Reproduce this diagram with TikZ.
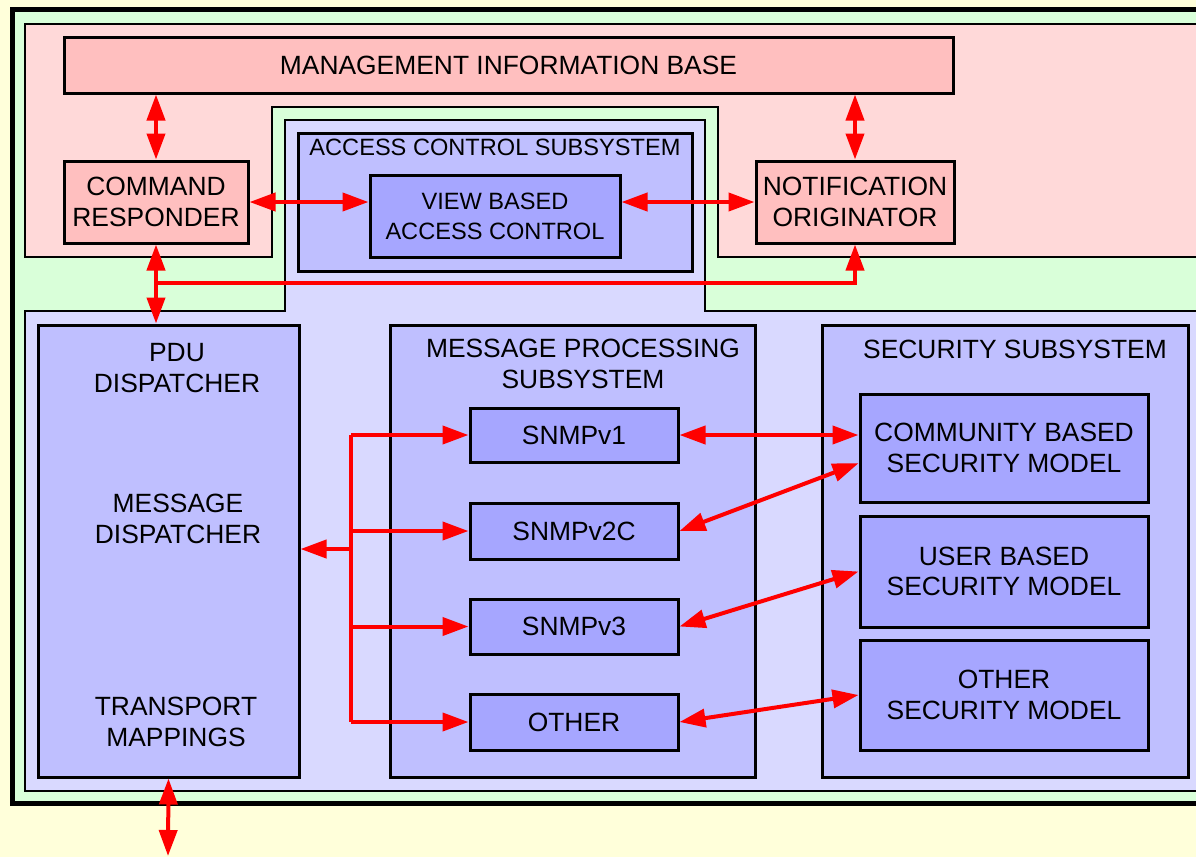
\documentclass[tikz,border=0pt]{standalone}
\usepackage{fontspec}
\setmainfont{Liberation Sans}
\usepackage{tikz}
\usepackage{xcolor}
\usetikzlibrary{arrows.meta}

\definecolor{paper}{HTML}{FFFFDA}
\definecolor{framegreen}{HTML}{D9FFD9}
\definecolor{apparea}{HTML}{FFD9D9}
\definecolor{appbox}{HTML}{FFBFBF}
\definecolor{engarea}{HTML}{D9D9FF}
\definecolor{subbox}{HTML}{BFBFFF}
\definecolor{modbox}{HTML}{A6A6FF}

\begin{document}
\begin{tikzpicture}[x=0.5pt, y=-0.5pt,
    font=\fontsize{13.2}{15.3}\selectfont,
    >={Triangle[length=13pt, width=9pt]},
    link/.style={red, line width=2pt},
    appnode/.style={draw, line width=1.5pt, fill=appbox, inner sep=0pt, align=center},
    subnode/.style={draw, line width=1.5pt, fill=subbox, inner sep=0pt, align=center},
    modnode/.style={draw, line width=1.5pt, fill=modbox, inner sep=0pt, align=center},
    smalltext/.style={font=\fontsize{11.8}{15}\selectfont, align=center}]
    \useasboundingbox (0,0) rectangle (1196,857);
    \fill [paper] (0,0) rectangle (1196,857);
    \clip (0,0) rectangle (1196,857);

    % areas
    \draw [line width=2.5pt, fill=framegreen] (12.5,9.5) rectangle (1215,803.5);
    \draw [line width=1pt, fill=apparea]
            (25,24) -- (1215,24) -- (1215,257) -- (718,257) -- (718,107)
            -- (272,107) -- (272,257) -- (25,257) -- cycle;
    \draw [line width=1pt, fill=engarea]
            (25,311) -- (285,311) -- (285,120) -- (705,120) -- (705,311)
            -- (1215,311) -- (1215,791) -- (25,791) -- cycle;

    % applications
    \node [appnode, minimum width=444.5pt, minimum height=28pt] (mib) at (508.5,65)
            {MANAGEMENT INFORMATION BASE};
    \node [appnode, minimum width=92pt, minimum height=41pt] (cr) at (156,202)
            {COMMAND\\RESPONDER};
    \node [appnode, minimum width=99pt, minimum height=41pt] (no) at (855,202)
            {NOTIFICATION\\ORIGINATOR};

    % access control
    \node [subnode, minimum width=197pt, minimum height=69pt] (acs) at (495,202) {};
        \node [smalltext] (acstitle) at (495,147) {ACCESS CONTROL SUBSYSTEM};
    \node [modnode, smalltext, minimum width=125pt, minimum height=41pt] (vbac) at (495,216)
            {VIEW BASED\\ACCESS CONTROL};

    % dispatcher
    \node [subnode, minimum width=130.5pt, minimum height=226pt] (pdu) at (168.5,551) {};
        \node [align=center] (pdutitle) at (177,368) {PDU\\DISPATCHER};
        \node [align=center] (msgdisp) at (178,519) {MESSAGE\\DISPATCHER};
        \node [align=center] (transport) at (176,722) {TRANSPORT\\MAPPINGS};

    % message processing
    \node [subnode, minimum width=182.5pt, minimum height=226pt] (mps) at (572.5,551) {};
        \node [align=center] (mpstitle) at (583,364) {MESSAGE PROCESSING\\SUBSYSTEM};
    \node [modnode, minimum width=104pt, minimum height=27pt] (v1) at (574,435) {SNMPv1};
    \node [modnode, minimum width=104pt, minimum height=28pt] (v2c) at (574,531) {SNMPv2C};
    \node [modnode, minimum width=104pt, minimum height=27.5pt] (v3) at (574,626.5) {SNMPv3};
    \node [modnode, minimum width=104pt, minimum height=28pt] (oth) at (574,722) {OTHER};

    % security
    \node [subnode, minimum width=183pt, minimum height=226pt] (ss) at (1005,551) {};
        \node (sstitle) at (1015,349) {SECURITY SUBSYSTEM};
    \node [modnode, minimum width=144pt, minimum height=54pt] (cbsm) at (1004,448)
            {COMMUNITY BASED\\SECURITY MODEL};
    \node [modnode, minimum width=144pt, minimum height=55.5pt] (ubsm) at (1004,571.5)
            {USER BASED\\SECURITY MODEL};
    \node [modnode, minimum width=144pt, minimum height=55pt] (osm) at (1004,695)
            {OTHER\\SECURITY MODEL};

    % arrows
    \draw [link, <->] (cr.north) -- (cr.north |- mib.south);
    \draw [link, <->] (no.north) -- (no.north |- mib.south);
    \draw [link, <->] (cr.east) -- (cr.east -| vbac.west);
    \draw [link, <->] (no.west -| vbac.east) -- (no.west);
    \draw [link, <->] (cr.south) -- (cr.south |- pdu.north);

    \coordinate (tap) at (156,283);
    \draw [link, ->] (tap) -| (no.south);

    \coordinate (fork) at (351,549);
    \draw [link, ->] (fork) -- (fork -| pdu.east);
    \draw [link] (fork |- v1.west) -- (fork |- oth.west);
    \foreach \m in {v1, v2c, v3, oth}
        \draw [link, ->] (fork |- \m.west) -- (\m.west);

    \draw [link, <->] (v1.east) -- (v1.east -| cbsm.west);
    \draw [link, <->] (v2c.east) -- (cbsm.186);
    \draw [link, <->] (v3.east) -- (ubsm.west);
    \draw [link, <->] (oth.east) -- (osm.west);

    \coordinate (wire) at (168,856);
    \draw [link, <->] (pdu.south) -- (wire);
\end{tikzpicture}
\end{document}
